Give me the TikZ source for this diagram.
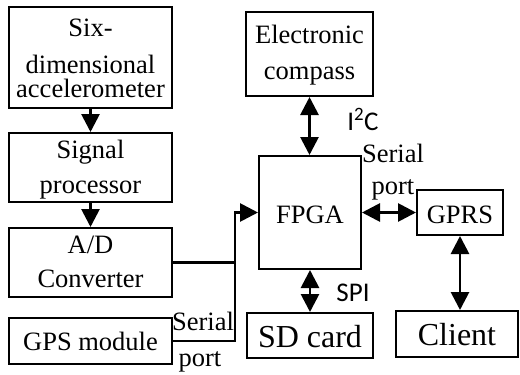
\documentclass[tikz,border=0pt]{standalone}
\usepackage{fontspec}
\setmainfont{Liberation Serif}
\newfontfamily\carl{Carlito}
\usetikzlibrary{arrows.meta}
\begin{document}
\begin{tikzpicture}[x=1pt,y=-1pt,
  box/.style={draw,line width=2pt,minimum width=#1,inner sep=0pt},
  txt/.style={anchor=base,inner sep=0pt,font=\fontsize{26.5}{26.5}\selectfont},
  big/.style={anchor=base,inner sep=0pt,font=\fontsize{32}{32}\selectfont},
  lbl/.style={anchor=base,inner sep=0pt,font=\carl\fontsize{27}{27}\selectfont},
  conn/.style={line width=2.8pt,-{Triangle[length=18pt,width=18pt]}},
  dconn/.style={line width=2.8pt,{Triangle[length=18pt,width=18pt]}-{Triangle[length=18pt,width=18pt]}},
  wire/.style={line width=2.8pt}]
\useasboundingbox (0,0) rectangle (520,375);
% boxes
\node[box=163pt,minimum height=101pt] (acc) at (90.5,57.5) {};
\node[box=163pt,minimum height=69pt] (sig) at (90.5,167.5) {};
\node[box=163pt,minimum height=69pt] (ad) at (90.5,262.5) {};
\node[box=163pt,minimum height=46pt] (gps) at (90.5,341) {};
\node[box=127pt,minimum height=84pt] (ec) at (309.5,54) {};
\node[box=102pt,minimum height=113pt] (fpga) at (310,212.5) {};
\node[box=86pt,minimum height=45pt] (gprs) at (460,212.5) {};
\node[box=126pt,minimum height=45pt] (sd) at (310,335.5) {};
\node[box=122pt,minimum height=46pt] (client) at (457,334) {};
% texts
\node[txt] (t1) at (90.5,36) {Six-};
\node[txt] (t2) at (90.5,73) {dimensional};
\node[txt] (t3) at (90.5,97) {accelerometer};
\node[txt] (t4) at (90.5,158) {Signal};
\node[txt] (t5) at (90.5,193) {processor};
\node[txt] (t6) at (90.5,253) {A/D};
\node[txt] (t7) at (90.5,287) {Converter};
\node[txt] (t8) at (90.5,350) {GPS module};
\node[txt] (t9) at (309.5,43) {Electronic};
\node[txt] (t10) at (309.5,79) {compass};
\node[txt] (t11) at (310,223) {FPGA};
\node[txt] (t12) at (460,223) {GPRS};
\node[big] (t13) at (310,347) {SD card};
\node[big] (t14) at (457,345) {Client};
\node[txt] (s1) at (203,330) {Serial};
\node[txt] (p1) at (200,366) {port};
\node[txt] (s2) at (393,162) {Serial};
\node[txt] (p2) at (393,194) {port};
\node[lbl] (i2c) at (363,130) {I\textsuperscript{2}C};
\node[lbl] (spi) at (353,301) {SPI};
% connectors
\draw[conn] (acc.south) -- (sig.north);
\draw[conn] (sig.south) -- (ad.north);
\draw[dconn] (ec.south) -- (ec.south |- fpga.north);
\draw[dconn] (fpga.south) -- (sd.north);
\draw[dconn] (fpga.east) -- (gprs.west);
\draw[dconn] (gprs.south) -- (gprs.south |- client.north);
\coordinate (j) at (235,262.5);
\draw[wire] (ad.east) -- (j);
\draw[conn] (gps.east) -| (j) |- (fpga.west);
\end{tikzpicture}
\end{document}
